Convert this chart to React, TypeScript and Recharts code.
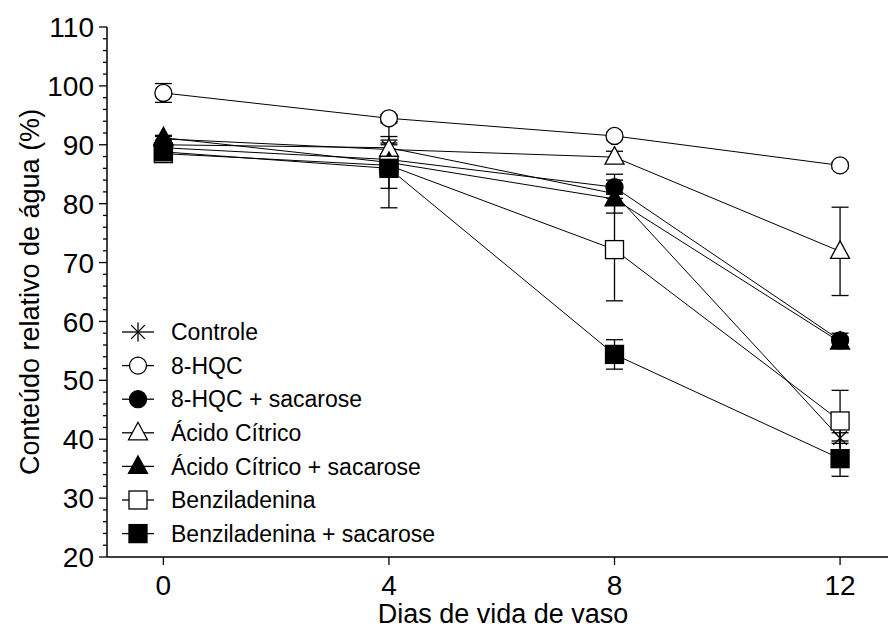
import React from 'react'
import { ErrorBar, Label, Legend, Line, LineChart, XAxis, YAxis } from 'recharts'

// dias de vida de vaso
const dias = [0, 4, 8, 12]

// conteúdo relativo de água (%) e erro padrão por tratamento
const controle = [90.0, 89.5, 81.7, 40.2]
const controleErro = [0.5, 1.3, 3.3, 0.9]
const hqc = [98.8, 94.5, 91.5, 86.5]
const hqcErro = [1.6, 0.6, 0.6, 0.5]
const hqcSacarose = [89.5, 87.5, 82.8, 56.8]
const hqcSacaroseErro = [0.5, 2.8, 1.2, 1.2]
const citrico = [91.0, 89.2, 87.9, 71.9]
const citricoErro = [0.4, 0.8, 1.0, 7.5]
const citricoSacarose = [91.2, 87.0, 80.8, 56.5]
const citricoSacaroseErro = [0.4, 4.4, 1.0, 0.8]
const benzil = [88.5, 86.5, 72.2, 43.1]
const benzilErro = [0.6, 7.2, 8.7, 5.2]
const benzilSacarose = [88.8, 86.0, 54.4, 36.7]
const benzilSacaroseErro = [0.6, 1.0, 2.5, 3.0]

const xTicks = [0, 4, 8, 12]
const yTicksMaiores = [20, 30, 40, 50, 60, 70, 80, 90, 100, 110]
const yTicksMenores = [22, 24, 26, 28, 32, 34, 36, 38, 42, 44, 46, 48, 52, 54, 56, 58, 62, 64, 66, 68, 72, 74, 76, 78, 82, 84, 86, 88, 92, 94, 96, 98, 102, 104, 106, 108]
const yTicks = [...yTicksMaiores, ...yTicksMenores].sort((a, b) => a - b)

type Simbolo = 'asterisco' | 'circulo' | 'circuloCheio' | 'triangulo' | 'trianguloCheio' | 'quadrado' | 'quadradoCheio'

interface Serie {
  chave: string
  nome: string
  valores: number[]
  erros: number[]
  simbolo: Simbolo
}

const series: Serie[] = [
  { chave: 'controle', nome: 'Controle', valores: controle, erros: controleErro, simbolo: 'asterisco' },
  { chave: 'hqc', nome: '8-HQC', valores: hqc, erros: hqcErro, simbolo: 'circulo' },
  { chave: 'hqcSacarose', nome: '8-HQC + sacarose', valores: hqcSacarose, erros: hqcSacaroseErro, simbolo: 'circuloCheio' },
  { chave: 'citrico', nome: 'Ácido Cítrico', valores: citrico, erros: citricoErro, simbolo: 'triangulo' },
  { chave: 'citricoSacarose', nome: 'Ácido Cítrico + sacarose', valores: citricoSacarose, erros: citricoSacaroseErro, simbolo: 'trianguloCheio' },
  { chave: 'benzil', nome: 'Benziladenina', valores: benzil, erros: benzilErro, simbolo: 'quadrado' },
  { chave: 'benzilSacarose', nome: 'Benziladenina + sacarose', valores: benzilSacarose, erros: benzilSacaroseErro, simbolo: 'quadradoCheio' },
]

const dados = dias.map((dia, i) => {
  const linha: Record<string, number> = { dia }
  series.forEach((s) => {
    linha[s.chave] = s.valores[i]
    linha[s.chave + 'Erro'] = s.erros[i]
  })
  return linha
})

const fonte = 'Arial, "Liberation Sans", sans-serif'

function Marcador({ simbolo, cx, cy }: { simbolo: Simbolo; cx: number; cy: number }) {
  const cheio = simbolo.endsWith('Cheio')
  const estilo = { fill: cheio ? '#000' : '#fff', stroke: '#000', strokeWidth: 1.3 }
  if (simbolo === 'asterisco') {
    const r = 9.5
    const d = r * 0.72
    return (
      <g stroke='#000' strokeWidth={1.3}>
        <line x1={cx} y1={cy - r} x2={cx} y2={cy + r} />
        <line x1={cx - d} y1={cy - d} x2={cx + d} y2={cy + d} />
        <line x1={cx - d} y1={cy + d} x2={cx + d} y2={cy - d} />
      </g>
    )
  }
  if (simbolo === 'circulo' || simbolo === 'circuloCheio') {
    return <circle cx={cx} cy={cy} r={8.5} {...estilo} />
  }
  if (simbolo === 'triangulo' || simbolo === 'trianguloCheio') {
    return <polygon points={`${cx},${cy - 10.5} ${cx - 9.5},${cy + 7} ${cx + 9.5},${cy + 7}`} {...estilo} />
  }
  return <rect x={cx - 9} y={cy - 9} width={18} height={18} {...estilo} />
}

function TickY(props: any) {
  const { x, y, payload } = props
  const maior = payload.value % 10 === 0
  return (
    <g>
      <line x1={x} x2={x - (maior ? 8 : 4)} y1={y} y2={y} stroke='#000' strokeWidth={1.3} />
      {maior && (
        <text x={x - 13} y={y} dy='0.36em' textAnchor='end' fontSize={28} fontFamily={fonte} fill='#000'>
          {payload.value}
        </text>
      )}
    </g>
  )
}

function TickX(props: any) {
  const { x, y, payload } = props
  return (
    <g>
      <line x1={x} x2={x} y1={y} y2={y + 8} stroke='#000' strokeWidth={1.3} />
      <text x={x} y={y + 38} textAnchor='middle' fontSize={28} fontFamily={fonte} fill='#000'>
        {payload.value}
      </text>
    </g>
  )
}

function Legenda() {
  return (
    <svg width={360} height={240} style={{ display: 'block' }}>
      {series.map((s, i) => {
        const y = 17 + i * 33.6
        return (
          <g key={s.chave}>
            <line x1={2} x2={34} y1={y} y2={y} stroke='#000' strokeWidth={1.3} />
            <Marcador simbolo={s.simbolo} cx={18} cy={y} />
            <text x={51} y={y} dy='0.36em' fontSize={23} fontFamily={fonte} fill='#000'>
              {s.nome}
            </text>
          </g>
        )
      })}
    </svg>
  )
}

export default function App() {
  return (
    <div style={{ position: 'absolute', left: 0, top: 0, background: '#fff' }}>
      <LineChart width={888} height={630} data={dados} margin={{ top: 27, right: 0, bottom: 0, left: 0 }}>
        <XAxis
          dataKey='dia'
          type='number'
          domain={[-1, 12.85]}
          ticks={xTicks}
          interval={0}
          height={73}
          tickSize={0}
          tickMargin={0}
          tick={<TickX />}
          axisLine={{ stroke: '#000', strokeWidth: 1.5 }}
        >
          <Label
            content={() => (
              <text x={503} y={623} textAnchor='middle' fontSize={27} fontFamily={fonte} fill='#000'>
                Dias de vida de vaso
              </text>
            )}
          />
        </XAxis>
        <YAxis
          type='number'
          domain={[20, 110]}
          ticks={yTicks}
          interval={0}
          width={107}
          tickSize={0}
          tickMargin={0}
          tick={<TickY />}
          axisLine={{ stroke: '#000', strokeWidth: 1.5 }}
        >
          <Label
            content={(p: any) => {
              const vb = p.viewBox
              const cy = vb.y + vb.height / 2
              return (
                <text
                  transform={`translate(29,${cy}) rotate(-90)`}
                  dy='0.36em'
                  textAnchor='middle'
                  fontSize={27}
                  fontFamily={fonte}
                  fill='#000'
                >
                  Conteúdo relativo de água (%)
                </text>
              )
            }}
          />
        </YAxis>
        <Legend
          layout='vertical'
          align='center'
          verticalAlign='middle'
          content={() => <Legenda />}
          wrapperStyle={{ left: 120, top: 315, width: 360, height: 240 }}
        />
        {series.map((s) => (
          <Line
            key={s.chave}
            dataKey={s.chave}
            type='linear'
            stroke='#000'
            strokeWidth={1}
            isAnimationActive={false}
            activeDot={false}
            dot={(p: any) => <Marcador key={`${s.chave}-${p.index}`} simbolo={s.simbolo} cx={p.cx} cy={p.cy} />}
          >
            <ErrorBar dataKey={s.chave + 'Erro'} width={8.5} stroke='#000' strokeWidth={1.3} direction='y' isAnimationActive={false} />
          </Line>
        ))}
      </LineChart>
    </div>
  )
}
